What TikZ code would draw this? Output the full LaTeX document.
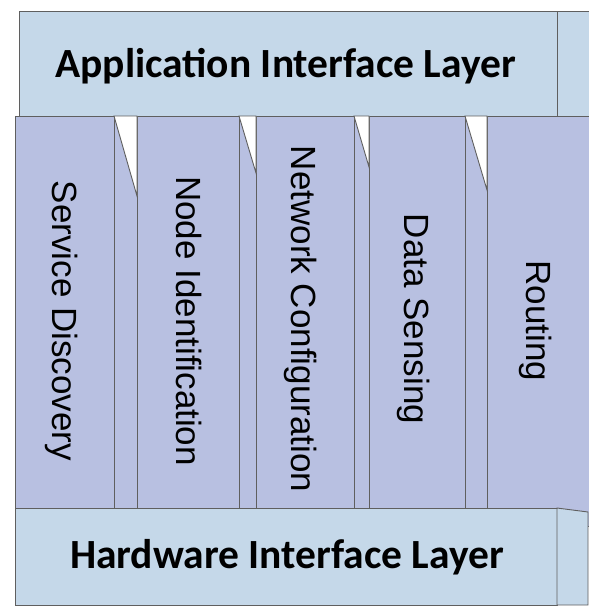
\documentclass[tikz,border=0pt]{standalone}
\usepackage{fontspec}
\newfontfamily\layerfont{Carlito}
\newfontfamily\colfont{Liberation Sans}
\definecolor{layerblue}{RGB}{197,216,233}
\definecolor{colblue}{RGB}{184,192,225}
\definecolor{edgegray}{RGB}{95,95,95}
\begin{document}
\begin{tikzpicture}[x=1pt,y=-1pt,line width=0.9pt,
  layerface/.style={fill=layerblue,draw=edgegray},
  colface/.style={fill=colblue,draw=edgegray},
  gapface/.style={fill=white,draw=edgegray},
  layertext/.style={font=\layerfont\bfseries\fontsize{41.5}{41.5}\selectfont,inner sep=0pt,anchor=base},
  coltext/.style={font=\colfont\fontsize{35}{35}\selectfont,inner sep=0pt,rotate=-90,anchor=base}]
\useasboundingbox (0,0) rectangle (589,606);
% top layer
\draw[layerface] (19,11) rectangle (557,116);
\draw[layerface] (557,11) rectangle (600,116);
% column front faces
\draw[colface] (15,116) rectangle (114,526);
\draw[colface] (137,116) rectangle (239,526);
\draw[colface] (256,116) rectangle (354,526);
\draw[colface] (369,116) rectangle (465,526);
\draw[colface] (487,116) rectangle (600,526);
% column side strips with gaps
\foreach \a/\b/\c in {114/137/196, 239/256/173, 354/369/167, 465/487/190}{
  \draw[colface] (\a,116) rectangle (\b,526);
  \draw[gapface] (\a,116) -- (\b,116) -- (\b,\c) -- cycle;
}
% bottom layer
\draw[layerface] (15,508) rectangle (557,605);
\draw[layerface] (557,508) -- (588,512) -- (588,605) -- (557,605) -- cycle;
% texts
\node[layertext] (app) at (285.7,77) {Application Interface Layer};
\node[layertext] (hw) at (287,568) {Hardware Interface Layer};
\node[coltext] (sd) at (52.6,321) {Service Discovery};
\node[coltext] (ni) at (176.6,321) {Node Identification};
\node[coltext] (nc) at (291,319) {Network Configuration};
\node[coltext] (ds) at (404,319) {Data Sensing};
\node[coltext] (rt) at (526,321) {Routing};
\end{tikzpicture}
\end{document}
